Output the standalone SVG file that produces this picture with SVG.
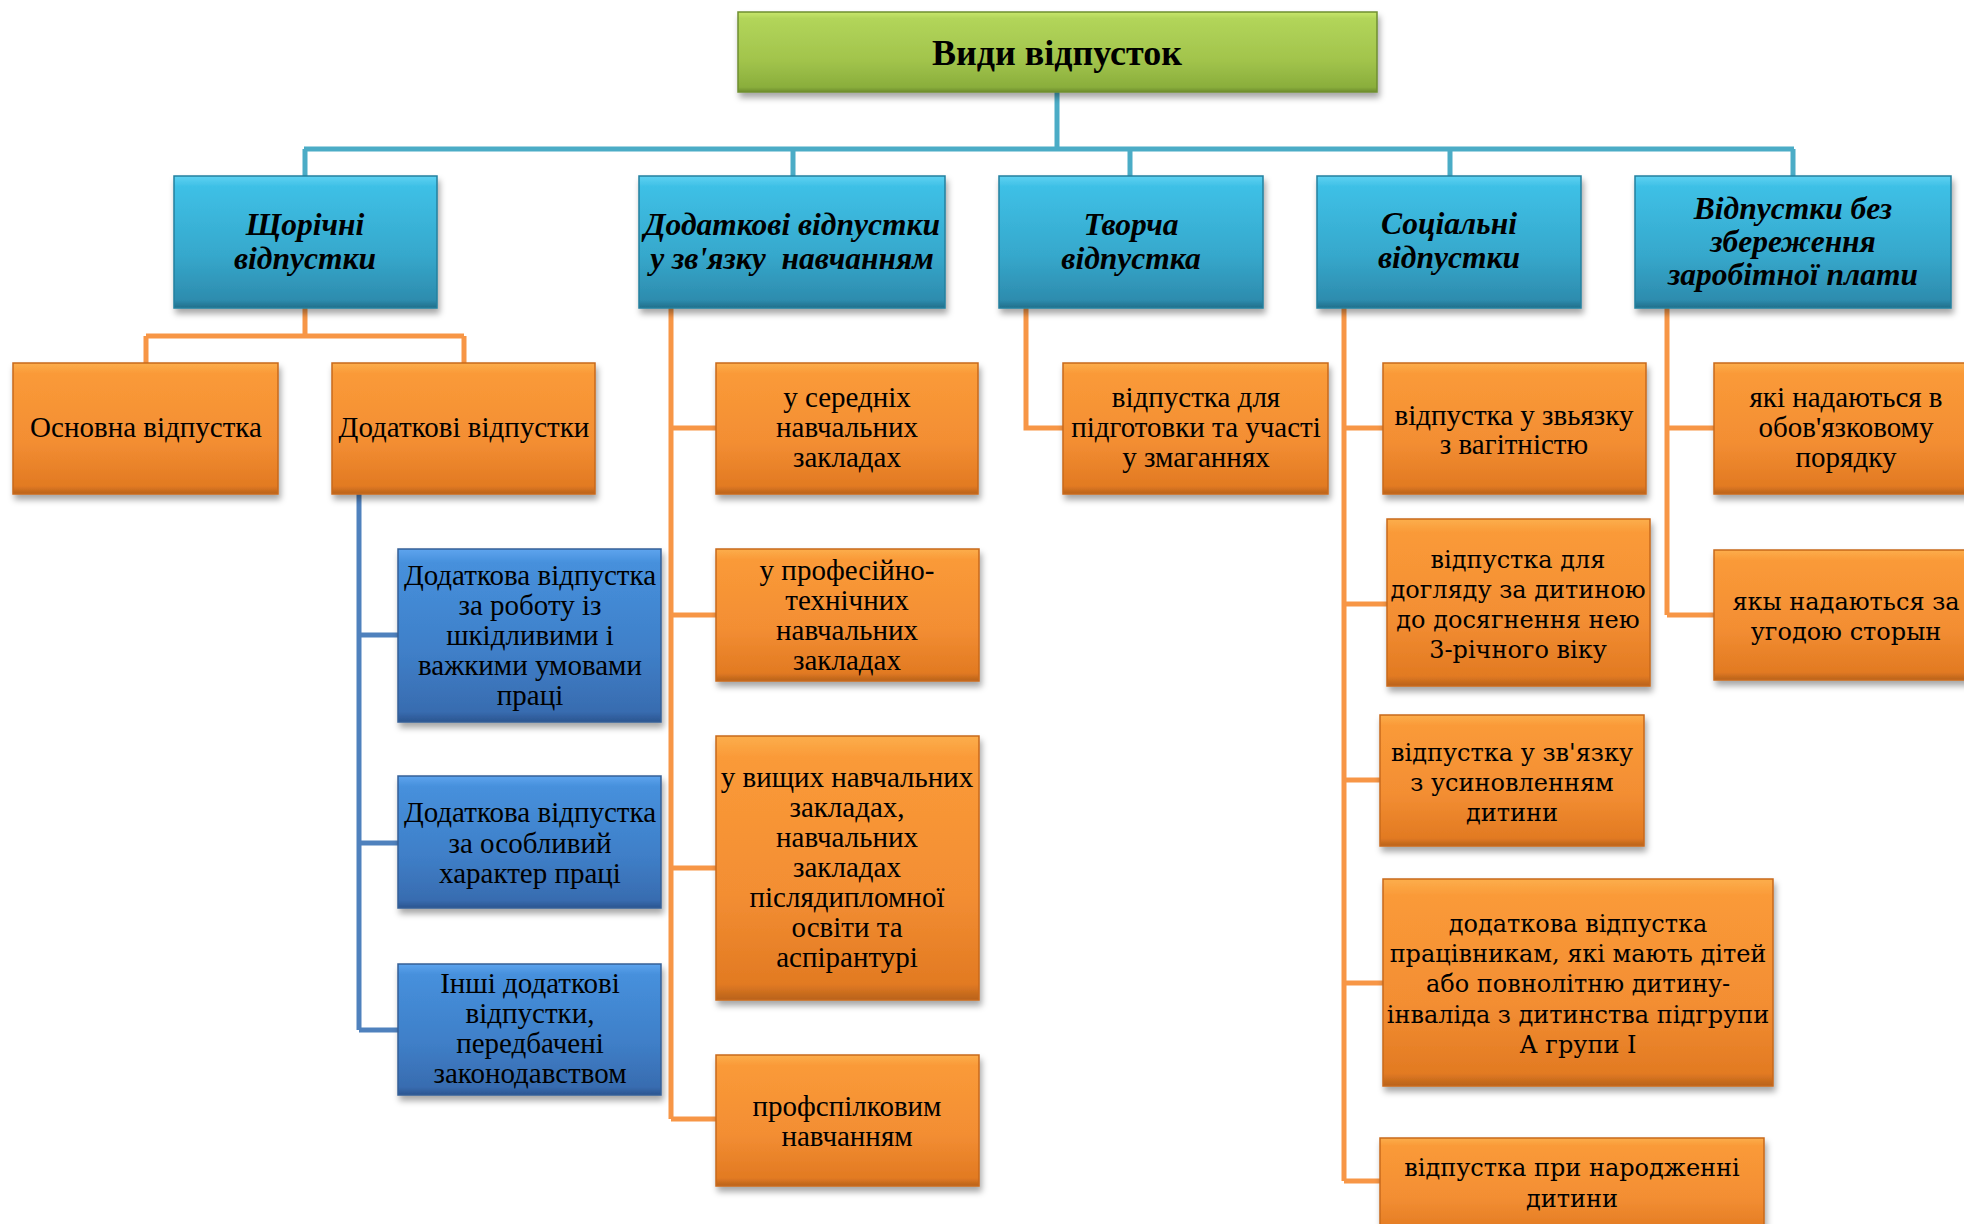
<svg xmlns="http://www.w3.org/2000/svg" width="1964" height="1224" viewBox="0 0 1964 1224">
<style>
.t{font-family:"Liberation Serif","Times New Roman",serif;font-size:29px;fill:#000;text-anchor:middle}
.w{font-family:"DejaVu Serif","Liberation Serif",serif;font-size:24px;fill:#000;text-anchor:middle}
.h{font-family:"Liberation Serif","Times New Roman",serif;font-size:31.5px;font-weight:bold;font-style:italic;fill:#000;text-anchor:middle;white-space:pre}
.r{font-family:"Liberation Serif","Times New Roman",serif;font-size:36px;font-weight:bold;fill:#000;text-anchor:middle}
.org{fill:url(#gO);stroke:#c8691c;stroke-width:1.5;filter:url(#sh)}
.tea{fill:url(#gT);stroke:#25809e;stroke-width:1.5;filter:url(#sh)}
.blu{fill:url(#gB);stroke:#345f96;stroke-width:1.5;filter:url(#sh)}
.grn{fill:url(#gG);stroke:#6f8f30;stroke-width:1.5;filter:url(#sh)}
.cT{fill:none;stroke:#4BACC6;stroke-width:5}
.cO{fill:none;stroke:#F79646;stroke-width:5}
.cB{fill:none;stroke:#4F81BD;stroke-width:5}
</style>
<defs>
<filter id="sh" x="-10%" y="-10%" width="125%" height="135%">
<feDropShadow dx="2" dy="5" stdDeviation="3" flood-color="#000" flood-opacity="0.35"/>
</filter>
<linearGradient id="gO" x1="0" y1="0" x2="0" y2="1">
<stop offset="0" stop-color="#fcae4c"/><stop offset="0.08" stop-color="#fa9a38"/><stop offset="0.6" stop-color="#f38e33"/><stop offset="0.94" stop-color="#e27a22"/><stop offset="1" stop-color="#b8621c"/>
</linearGradient>
<linearGradient id="gT" x1="0" y1="0" x2="0" y2="1">
<stop offset="0" stop-color="#5fd2f2"/><stop offset="0.08" stop-color="#3ec0e6"/><stop offset="0.6" stop-color="#36a8cc"/><stop offset="0.94" stop-color="#2d8cae"/><stop offset="1" stop-color="#226e8a"/>
</linearGradient>
<linearGradient id="gB" x1="0" y1="0" x2="0" y2="1">
<stop offset="0" stop-color="#5ea4ee"/><stop offset="0.08" stop-color="#4690dc"/><stop offset="0.6" stop-color="#3f7fc8"/><stop offset="0.94" stop-color="#386cb0"/><stop offset="1" stop-color="#2b5590"/>
</linearGradient>
<linearGradient id="gG" x1="0" y1="0" x2="0" y2="1">
<stop offset="0" stop-color="#c8e66c"/><stop offset="0.08" stop-color="#b2d55a"/><stop offset="0.6" stop-color="#a2c44c"/><stop offset="0.94" stop-color="#8aae3c"/><stop offset="1" stop-color="#6c8c2c"/>
</linearGradient>
</defs>
<rect width="1964" height="1224" fill="#fff"/>

<g id="connectors">
<path class="cT" d="M1057 92V149M304 149H1794M305 149V176M793 149V176M1130 149V176M1450 149V176M1793 149V176"/>
<path class="cO" d="M305 308V336M146 336H464M146 336V363M464 336V363"/>
<path class="cO" d="M671 308V1119M671 428H716M671 615H716M671 868H716M671 1119H716"/>
<path class="cB" d="M359 494V1030M359 635H398M359 843H398M359 1030H398"/>
<path class="cO" d="M1026 308V428H1063"/>
<path class="cO" d="M1344 308V1181M1344 428H1383M1344 604H1387M1344 780H1380M1344 983H1383M1344 1181H1380"/>
<path class="cO" d="M1667 308V615M1667 428H1714M1667 615H1714"/>
</g>

<g id="root"><rect class="grn" x="738" y="12" width="639" height="80"/><text class="r" x="1057" y="65">Види відпусток</text></g>

<g id="annual"><rect class="tea" x="174" y="176" width="263" height="132"/><text class="h" x="305" y="235">Щорічні<tspan x="305" dy="34">відпустки</tspan></text></g>
<g id="study"><rect class="tea" x="639" y="176" width="306" height="132"/><text class="h" x="792" y="235">Додаткові відпустки<tspan x="792" dy="34">у зв'язку  навчанням</tspan></text></g>
<g id="creative"><rect class="tea" x="999" y="176" width="264" height="132"/><text class="h" x="1131" y="235">Творча<tspan x="1131" dy="34">відпустка</tspan></text></g>
<g id="social"><rect class="tea" x="1317" y="176" width="264" height="132"/><text class="h" x="1449" y="234">Соціальні<tspan x="1449" dy="34">відпустки</tspan></text></g>
<g id="unpaid"><rect class="tea" x="1635" y="176" width="316" height="132"/><text class="h" x="1793" y="219">Відпустки без<tspan x="1793" dy="33">збереження</tspan><tspan x="1793" dy="33">заробітної плати</tspan></text></g>

<g id="basic"><rect class="org" x="13" y="363" width="265" height="131"/><text class="t" x="146" y="437">Основна відпустка</text></g>
<g id="additional"><rect class="org" x="332" y="363" width="263" height="131"/><text class="t" x="464" y="437">Додаткові відпустки</text></g>

<g id="harmful"><rect class="blu" x="398" y="549" width="263" height="173"/><text class="t" x="530" y="585">Додаткова відпустка<tspan x="530" dy="30">за роботу із</tspan><tspan x="530" dy="30">шкідливими і</tspan><tspan x="530" dy="30">важкими умовами</tspan><tspan x="530" dy="30">праці</tspan></text></g>
<g id="special"><rect class="blu" x="398" y="776" width="263" height="132"/><text class="t" x="530" y="822">Додаткова відпустка<tspan x="530" dy="31">за особливий</tspan><tspan x="530" dy="30">характер праці</tspan></text></g>
<g id="other"><rect class="blu" x="398" y="964" width="263" height="131"/><text class="t" x="530" y="993">Інші додаткові<tspan x="530" dy="30">відпустки,</tspan><tspan x="530" dy="30">передбачені</tspan><tspan x="530" dy="30">законодавством</tspan></text></g>

<g id="secondary"><rect class="org" x="716" y="363" width="262" height="131"/><text class="t" x="847" y="407">у середніх<tspan x="847" dy="30">навчальних</tspan><tspan x="847" dy="30">закладах</tspan></text></g>
<g id="vocational"><rect class="org" x="716" y="549" width="263" height="132"/><text class="t" x="847" y="580">у професійно-<tspan x="847" dy="30">технічних</tspan><tspan x="847" dy="30">навчальних</tspan><tspan x="847" dy="30">закладах</tspan></text></g>
<g id="higher"><rect class="org" x="716" y="736" width="263" height="264"/><text class="t" x="847" y="787">у вищих навчальних<tspan x="847" dy="30">закладах,</tspan><tspan x="847" dy="30">навчальних</tspan><tspan x="847" dy="30">закладах</tspan><tspan x="847" dy="30">післядипломної</tspan><tspan x="847" dy="30">освіти та</tspan><tspan x="847" dy="30">аспірантурі</tspan></text></g>
<g id="union"><rect class="org" x="716" y="1055" width="263" height="131"/><text class="t" x="847" y="1116">профспілковим<tspan x="847" dy="30">навчанням</tspan></text></g>

<g id="sport"><rect class="org" x="1063" y="363" width="265" height="131"/><text class="t" x="1196" y="407">відпустка для<tspan x="1196" dy="30">підготовки та участі</tspan><tspan x="1196" dy="30">у змаганнях</tspan></text></g>

<g id="pregnancy"><rect class="org" x="1383" y="363" width="263" height="131"/><text class="t" x="1514" y="425">відпустка у звьязку<tspan x="1514" dy="29">з вагітністю</tspan></text></g>
<g id="childcare"><rect class="org" x="1387" y="519" width="263" height="167"/><text class="w" x="1518" y="568">відпустка для<tspan x="1518" dy="30">догляду за дитиною</tspan><tspan x="1518" dy="30">до досягнення нею</tspan><tspan x="1518" dy="30">3-річного віку</tspan></text></g>
<g id="adoption"><rect class="org" x="1380" y="715" width="264" height="131"/><text class="w" x="1512" y="761">відпустка у зв'язку<tspan x="1512" dy="30">з усиновленням</tspan><tspan x="1512" dy="30">дитини</tspan></text></g>
<g id="parents"><rect class="org" x="1383" y="879" width="390" height="207"/><text class="w" x="1578" y="932">додаткова відпустка<tspan x="1578" dy="30">працівникам, які мають дітей</tspan><tspan x="1578" dy="30">або повнолітню дитину-</tspan><tspan x="1578" dy="31">інваліда з дитинства підгрупи</tspan><tspan x="1578" dy="30">А групи І</tspan></text></g>
<g id="birth"><rect class="org" x="1380" y="1138" width="384" height="100"/><text class="w" x="1572" y="1176">відпустка при народженні<tspan x="1572" dy="31">дитини</tspan></text></g>

<g id="mandatory"><rect class="org" x="1714" y="363" width="263" height="131"/><text class="t" x="1846" y="407">які надаються в<tspan x="1846" dy="30">обов'язковому</tspan><tspan x="1846" dy="30">порядку</tspan></text></g>
<g id="agreement"><rect class="org" x="1714" y="550" width="263" height="130"/><text class="w" x="1846" y="610">якы надаються за<tspan x="1846" dy="30">угодою сторын</tspan></text></g>
</svg>
